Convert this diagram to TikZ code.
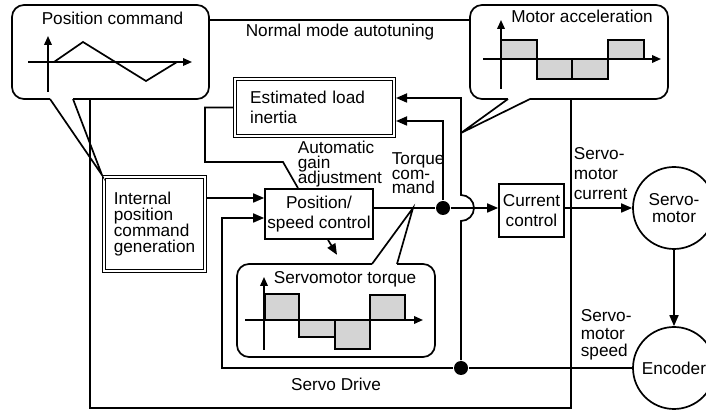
\documentclass[tikz,border=0pt]{standalone}
\usepackage{fontspec}
\setmainfont{Liberation Sans}
\usetikzlibrary{positioning,arrows.meta}
\lineskiplimit=-20pt

\begin{document}
\begin{tikzpicture}[
  x=0.5pt, y=-0.5pt,
  line width=0.85pt,
  font=\fontsize{8.6}{10}\selectfont,
  block/.style={draw, rectangle, align=center, inner xsep=1pt},
  dblock/.style={draw, rectangle, double, double distance=1.1pt, line width=0.55pt, outer sep=1.1pt, align=left},
  bubble/.style={draw, fill=white, rounded corners=6pt, minimum height=47pt},
  circ/.style={draw, circle, minimum size=41pt, inner sep=0pt, align=center},
  sig/.style={-{Triangle[length=5.5pt,width=4.5pt]}},
  ax/.style={-{Triangle[length=4.5pt,width=3.8pt]}},
  dot/.style={circle, fill, inner sep=0pt, minimum size=7pt},
  bar/.style={draw, fill=black!17},
  lbl/.style={align=left, inner sep=0pt, anchor=base west},
]
\useasboundingbox (0,0) rectangle (706,410);

% autotuning frame
\coordinate (fnw) at (90,20);
\coordinate (fse) at (571,408);
\draw (fnw) rectangle (fse);
\node[anchor=base, inner sep=0pt] (nmat) at (340,37) {Normal mode autotuning};

% blocks
\node[dblock, minimum width=79.3pt, minimum height=28.3pt, text width=64.3pt, inner xsep=7.5pt] (load) at (314.5,107.5) {Estimated load\\inertia};
\node[dblock, minimum width=50.3pt, minimum height=46.8pt, font=\fontsize{8.6}{7.9}\selectfont] (intgen) at (154.5,224) {Internal\\position\\command\\generation};
\node[block, minimum width=54pt, minimum height=25pt] (psc) at (319,214) {Position/\\speed control};
\node[block, minimum width=32.5pt, minimum height=26.5pt] (cur) at (531.5,210.5) {Current\\control};
\node[circ, font=\fontsize{8.6}{8.5}\selectfont] (motor) at (674,208) {Servo-\\motor};
\node[circ] (enc) at (674,368) {Encoder};

\node[dot] (tqdot) at (443,208) {};
\node[dot] (fbdot) at (461,368) {};
\coordinate (fbcorner) at (222,368);
\coordinate (pin1) at ([yshift=8pt]psc.west);
\coordinate (pin2) at ([yshift=-2pt]psc.west);

% signals
\draw[sig] (intgen.east |- pin1) -- (pin1);
\draw (psc.east |- tqdot) -- (tqdot);
\draw[sig] (tqdot) -- (cur.west |- tqdot);
\draw[sig] (tqdot) |- ([yshift=-6.75pt]load.east);
\draw[sig] (cur.east |- motor.west) -- (motor.west);
\draw[sig] (motor) -- (enc);
\draw (enc.west) -- (fbdot);
\draw[sig] (fbdot) -- (fbcorner) |- (pin2);
\draw[sig] (fbdot) -- ++(0,-147) arc(90:-90:13) |- ([yshift=4.75pt]load.east);
\draw (load.west) -- ++(-28,0) |- (283,162) -- ([xshift=-10.5pt]psc.north);
\draw[sig] ([xshift=4.5pt]psc.south) -- ++(9,15);

\node[anchor=base, inner sep=0pt] (sdrv) at (336,391) {Servo Drive};
\node[lbl, font=\fontsize{8.6}{7.5}\selectfont] (agl) at (297,184) {Automatic\\gain\\adjustment};
\node[lbl, font=\fontsize{8.6}{7.4}\selectfont] (tcl) at (391,194) {Torque\\com-\\mand};
\node[lbl] (scl) at (573,200) {Servo-\\motor\\current};
\node[lbl, font=\fontsize{8.6}{8.75}\selectfont] (ssl) at (580,357) {Servo-\\motor\\speed};

% position command bubble
\node[bubble, minimum width=98.5pt] (pcmd) at (110.5,52) {};
\fill[white] (50,97) rectangle (73,101);
\draw (50,99) -- (intgen.north west) -- (73,99);
\node[anchor=base, inner sep=0pt] (pcmdt) at (112.5,25) {Position command};
\draw[ax] (48,92) -- (48,36);
\draw[ax] (28,62) -- (192,62);
\draw (54,62) -- (83,42) -- (146,81) -- (177,62);

% motor acceleration bubble
\node[bubble, minimum width=99pt] (macc) at (569,52) {};
\fill[white] (508,97) rectangle (530,101);
\draw (508,99) -- (461,133) -- (530,99);
\node[anchor=base, inner sep=0pt] (macct) at (582,23) {Motor acceleration};
\foreach \a/\b/\c in {501/537/40, 537/572/79, 572/608/79, 608/644/40}
  \draw[bar] (\a,59) rectangle (\b,\c);
\draw[ax] (501,89) -- (501,20);
\draw[ax] (483,59) -- (661,59);

% servomotor torque bubble
\node[bubble, minimum width=99pt, minimum height=46.5pt] (storq) at (336,310.5) {};
\fill[white] (372,262) rectangle (397,266);
\draw (372,264) -- ([xshift=-15pt]tqdot.center) -- (397,264);
\node[anchor=base, inner sep=0pt] (storqt) at (345,284) {Servomotor torque};
\foreach \a/\b/\c in {265/299/294, 299/335/337, 335/370/349, 370/405/295}
  \draw[bar] (\a,320) rectangle (\b,\c);
\draw[ax] (264,350) -- (264,277);
\draw[ax] (245,320) -- (423,320);
\end{tikzpicture}
\end{document}
